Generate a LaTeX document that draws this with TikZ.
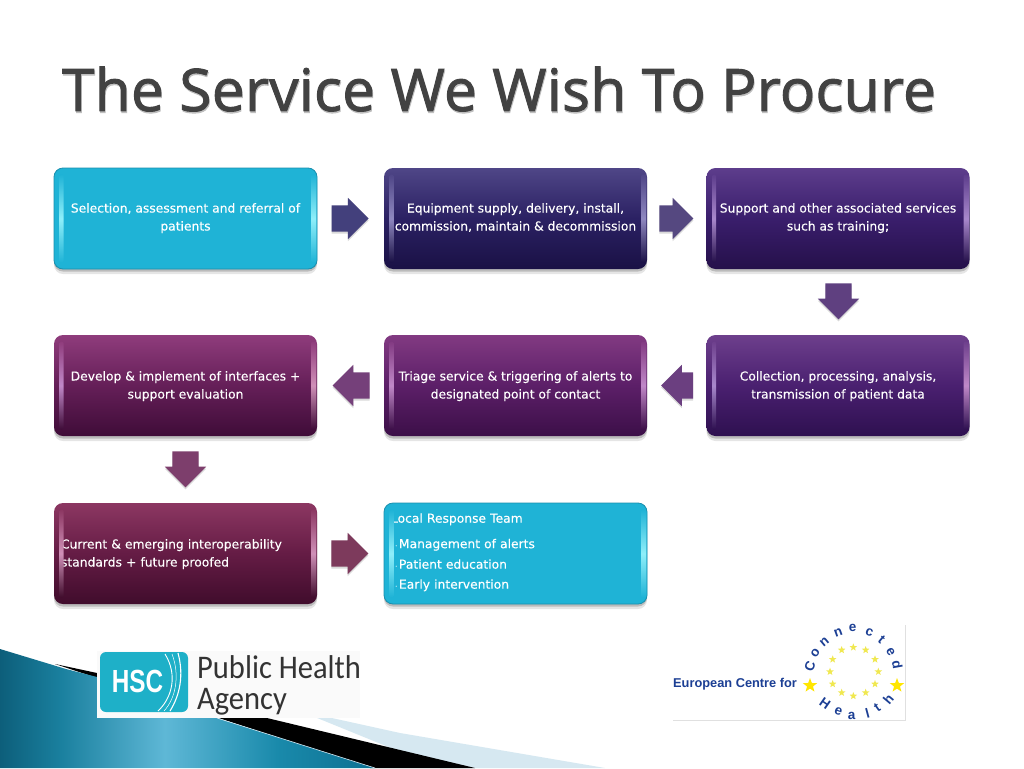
\documentclass[tikz,border=0pt]{standalone}
\usepackage{fontspec}
\setmainfont[FakeBold=0.25]{DejaVu Sans}
\newfontfamily\titlefont[FakeBold=1.6,LetterSpace=0.6]{Open Sans}
\newfontfamily\carlitofont{Carlito}
\newfontfamily\arialfont{Liberation Sans}
\usetikzlibrary{shapes.arrows,shapes.geometric,calc}
\pgfdeclarehorizontalshading{tealband}{100bp}{
 rgb(0bp)=(0.05,0.37,0.48);rgb(25bp)=(0.05,0.37,0.48);rgb(33bp)=(0.10,0.50,0.62);rgb(47bp)=(0.37,0.72,0.84);rgb(62bp)=(0.10,0.54,0.67);rgb(75bp)=(0.05,0.44,0.57);rgb(100bp)=(0.05,0.44,0.57)}
\definecolor{cyanfill}{HTML}{1FB3D6}
\definecolor{cyanrim}{HTML}{1A8FAE}
\definecolor{bt}{HTML}{4F4687}\definecolor{bm}{HTML}{2B2163}\definecolor{bb}{HTML}{1A1145}
\definecolor{ct}{HTML}{5D3D8C}\definecolor{cm}{HTML}{3A1E6C}\definecolor{cb}{HTML}{25104A}
\definecolor{dt}{HTML}{6D3F8C}\definecolor{dm}{HTML}{4A2070}\definecolor{db}{HTML}{2E1050}
\definecolor{et}{HTML}{823A82}\definecolor{em}{HTML}{5C1F68}\definecolor{eb}{HTML}{3C0F48}
\definecolor{ft}{HTML}{8F3C7C}\definecolor{fm}{HTML}{651F58}\definecolor{fb}{HTML}{3F0C38}
\definecolor{gt}{HTML}{8C3762}\definecolor{gm}{HTML}{651C45}\definecolor{gb}{HTML}{400C2C}
\definecolor{arA}{HTML}{43407C}\definecolor{arB}{HTML}{554880}\definecolor{arC}{HTML}{5F4080}
\definecolor{arD}{HTML}{6B3F80}\definecolor{arE}{HTML}{75407A}\definecolor{arF}{HTML}{7D3E6C}\definecolor{arG}{HTML}{7D3A5C}
\definecolor{wedge}{HTML}{D6E8F1}\definecolor{hscteal}{HTML}{1EB0C8}
\definecolor{echblue}{HTML}{1C3F94}\definecolor{smstar}{HTML}{F0E850}\definecolor{bgstar}{HTML}{FFE600}
\definecolor{barcyan}{HTML}{8FEFFA}\definecolor{barnavy}{HTML}{8F88C0}\definecolor{barvio}{HTML}{A888CC}
\definecolor{barpur}{HTML}{C088C8}\definecolor{barmag}{HTML}{D090B8}
\tikzset{
 x=1pt,y=-1pt,
 flowbox/.style={rectangle,rounded corners=9pt,minimum width=263pt,minimum height=101pt,inner sep=7pt,
   align=center,text=white,font=\fontsize{12.3}{18}\selectfont,
   preaction={fill=black,opacity=.10,transform canvas={yshift=-5pt}},
   preaction={fill=black,opacity=.18,transform canvas={yshift=-2.5pt}}},
 cyanbox/.style={flowbox,fill=cyanfill,draw=cyanrim,line width=.8pt},
 shadebox/.style n args={3}{flowbox,top color=#1,bottom color=#3,middle color=#2},
 blockarrow/.style={single arrow,single arrow head extend=7.5pt,minimum height=37pt,minimum width=41pt,
   inner xsep=0pt,inner ysep=13pt,anchor=tail,fill=#1,
   preaction={fill=black,opacity=.15,transform canvas={yshift=-2pt}}},
 bigstar/.style={star,star points=5,star point ratio=2.4,fill=#1,inner sep=0pt},
 arcletter/.style={text=echblue,font=\arialfont\bfseries\fontsize{13.5}{14}\selectfont,inner sep=0pt},
 bannertext/.style={font=\titlefont\fontsize{58.5}{60}\selectfont},
 logotext/.style={text=black!80,font=\carlitofont\fontsize{33}{33}\selectfont,anchor=west,inner sep=0pt,xscale=.925},
}
\newcommand{\firstrow}{\rule[-5pt]{0pt}{5pt}}
\newcommand{\lowrow}{\rule[-3pt]{0pt}{3pt}}
\newcommand{\topline}{\rule{0pt}{11pt}}
\newcommand{\gloss}[5]{%
 \shade[top color=#4,bottom color=#5,middle color=#2,rounded corners=1.5pt] ($(#1.center)+(-126,-44)$) rectangle ($(#1.center)+(-121.8,44)$);
 \shade[top color=#4,bottom color=#5,middle color=#3,rounded corners=2pt] ($(#1.center)+(125.5,-44)$) rectangle ($(#1.center)+(130.8,44)$);}
\begin{document}
\begin{tikzpicture}
\useasboundingbox (0,0) rectangle (1024,768);
\fill[white] (0,0) rectangle (1024,768);
% decorative wedge
\fill[wedge] (300,711) -- (400,733) -- (605,768) -- (440,768) -- cycle;
\fill[black] (55,664) -- (97,673) -- (267,718) -- (475,768) -- (370,768) -- cycle;
\path[shading=tealband] (0,649) -- (66,669) -- (97,677) -- (217,718) -- (375,768) -- (0,768) -- cycle;
\draw[wedge,line width=.6pt] (217,718) -- (375,768);
% title
\node[text=black!25,bannertext] (titleshadow) at (499.7,90.6) {The Service We Wish To Procure};
\node[text=black!74,bannertext] (title) at (499,89) {The Service We Wish To Procure};
% boxes
\node[cyanbox] (a) at (185.5,218.5) {\topline Selection, assessment and referral of\\patients\firstrow};
\node[shadebox={bt}{bm}{bb}] (b) at (515.5,218.5) {\topline Equipment supply, delivery, install,\\commission, maintain \& decommission\firstrow};
\node[shadebox={ct}{cm}{cb}] (c) at (838,218.5) {\topline Support and other associated services\\such as training;\firstrow};
\node[shadebox={dt}{dm}{db}] (d) at (838,385.5) {\topline Collection, processing, analysis,\\transmission of patient data\lowrow};
\node[shadebox={et}{em}{eb}] (e) at (515.5,385.5) {\topline Triage service \& triggering of alerts to\\designated point of contact\lowrow};
\node[shadebox={ft}{fm}{fb}] (f) at (185.5,385.5) {\topline Develop \& implement of interfaces +\\support evaluation\lowrow};
\node[shadebox={gt}{gm}{gb},align=left,text width=249pt] (g) at (185.5,553.5) {\topline Current \& emerging interoperability\\standards + future proofed\lowrow};
\node[cyanbox,align=left,text width=249pt] (h) at (515.5,553.5) {Local Response Team\\[7.5pt]\makebox[8pt][l]{\fontsize{7}{7}\selectfont\ ·}Management of alerts\\[2.5pt]\makebox[8pt][l]{\fontsize{7}{7}\selectfont\ ·}Patient education\\[2pt]\makebox[8pt][l]{\fontsize{7}{7}\selectfont\ ·}Early intervention\rule[-5pt]{0pt}{5pt}};
\gloss{a}{barcyan}{barcyan}{cyanfill}{cyanfill}
\gloss{h}{barcyan}{barcyan}{cyanfill}{cyanfill}
\gloss{b}{barnavy}{barnavy}{bt}{bb}
\gloss{c}{barvio}{barvio}{ct}{cb}
\gloss{d}{barvio}{barpur}{dt}{db}
\gloss{e}{barpur}{barpur}{et}{eb}
\gloss{f}{barpur}{barmag}{ft}{fb}
\gloss{g}{barmag}{barmag}{gt}{gb}
% arrows
\node[blockarrow=arA] (ab) at ($(a.east)+(14,0)$) {};
\node[blockarrow=arB,minimum height=34pt] (bc) at ($(b.east)+(12,0)$) {};
\node[blockarrow=arC,rotate=-90,minimum height=36pt] (cd) at ($(c.south)+(0.5,14)$) {};
\node[blockarrow=arD,rotate=180,minimum height=32pt] (de) at ($(d.west)+(-13,0)$) {};
\node[blockarrow=arE,rotate=180,minimum height=37pt] (ef) at ($(e.west)+(-14,0)$) {};
\node[blockarrow=arF,rotate=-90,minimum height=36pt] (fg) at ($(f.south)+(0,15)$) {};
\node[blockarrow=arG] (gh) at ($(g.east)+(14,0)$) {};
% HSC logo
\fill[black!2] (97,651) rectangle (360,718);
\fill[rounded corners=6pt,fill=hscteal] (100,652) rectangle (188,712);
\draw[white,line width=1.1pt] (178,653) .. controls (184,675) and (180,695) .. (170,711);
\draw[white,line width=.9pt] (165,654) .. controls (178,675) and (172,698) .. (158,711);
\draw[white,line width=.5pt] (172,654) .. controls (180,675) and (176,698) .. (164,711);
\node[text=white,font=\arialfont\bfseries\fontsize{32}{32}\selectfont,inner sep=0pt,xscale=.76] (hsc) at (137.5,681.5) {HSC};
\node[logotext] (ph) at (197,667) {Public Health};
\node[logotext] (ag) at (197,702) {Agency};
% ECH logo
\fill[white] (673,625) rectangle (905,720);
\draw[black!12] (673,720.5) -- (905,720.5) -- (905,625);
\node[text=echblue,font=\arialfont\bfseries\fontsize{12.8}{13}\selectfont,anchor=west,inner sep=0pt] (ecf) at (673,684.5) {European Centre for};
\foreach \px/\py [count=\i] in {580/97,545/105,617/105,518/133,645/133,510/170,655/170,518/207,645/207,545/233,580/243,617/233}
  \node[bigstar=smstar,minimum size=8pt] (s\i) at ({660+\px/3},{615+\py/3}) {};
\node[bigstar=bgstar,minimum size=15pt] (sl) at (810,685.5) {};
\node[bigstar=bgstar,minimum size=15pt] (sr) at (897,685.5) {};
\foreach \px/\py/\r/\t [count=\i] in {450/155/70/C,466/115/55/o,493/80/40/n,535/52/20/n,578/40/0/e,628/52/-20/c,665/75/-40/t,692/110/-60/e,712/150/-80/d,495/265/-35/H,535/290/-20/e,575/303/0/a,622/295/15/l,652/278/35/t,685/252/50/h}
  \node[arcletter,rotate=\r] (l\i) at ({660+\px/3},{615+\py/3}) {\t};
\end{tikzpicture}
\end{document}
